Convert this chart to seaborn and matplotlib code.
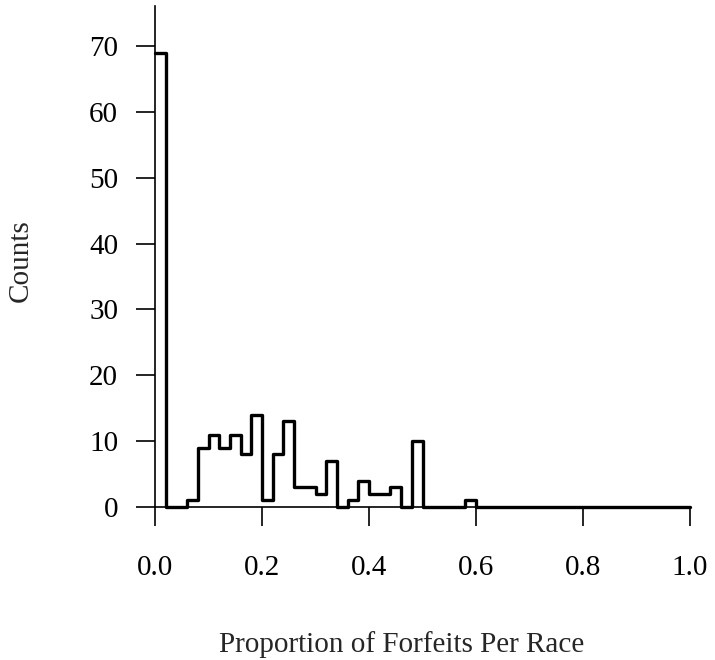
import numpy as np
import pandas as pd
import matplotlib
matplotlib.use("Agg")
import matplotlib.pyplot as plt
import seaborn as sns

bin_width = 0.02
counts = [69, 0, 0, 1, 9, 11, 9, 11, 8, 14,
          1, 8, 13, 3, 3, 2, 7, 0, 1, 4,
          2, 2, 3, 0, 10, 0, 0, 0, 0, 1,
          0, 0, 0, 0, 0, 0, 0, 0, 0, 0,
          0, 0, 0, 0, 0, 0, 0, 0, 0, 0]
x_ticks = [0.0, 0.2, 0.4, 0.6, 0.8, 1.0]
y_ticks = [0, 10, 20, 30, 40, 50, 60, 70]

centers = (np.arange(len(counts)) + 0.5) * bin_width
df = pd.DataFrame({"prop": centers, "n": counts})

sns.set_style("white")
plt.rcParams["font.family"] = ["Liberation Serif", "DejaVu Serif"]

fig = plt.figure(figsize=(7.15, 6.6), dpi=100)
ax = fig.add_axes([155/715, 1 - 507/660, 535/715, 501/660])
sns.histplot(data=df, x="prop", weights="n", binwidth=bin_width, binrange=(0, 1),
             element="step", fill=False, color="black", linewidth=2.4, ax=ax)
for art in ax.lines + ax.patches + ax.collections:
    art.set_clip_on(False)
ax.set_xlim(0, 1)
ax.set_ylim(0, 76.1)
ax.set_xticks(x_ticks)
ax.set_xticklabels([f"{t:.1f}" for t in x_ticks])
ax.set_yticks(y_ticks)
ax.set_yticklabels([str(t) for t in y_ticks])
for s in ["top", "right"]:
    ax.spines[s].set_visible(False)
for s in ["left", "bottom"]:
    ax.spines[s].set_color("black")
    ax.spines[s].set_linewidth(1.2)
ax.tick_params(axis="both", direction="out", length=13.5, width=1.2,
               labelsize=21, colors="black", bottom=True, left=True)
ax.tick_params(axis="x", pad=21)
ax.tick_params(axis="y", pad=13)
ax.set_xlabel("Proportion of Forfeits Per Race", fontsize=21)
ax.set_ylabel("Counts", fontsize=21)
ax.xaxis.set_label_coords(0.461, (507 - 652) / 501)
ax.xaxis.label.set_va("baseline")
ax.yaxis.set_label_coords((21 - 155) / 535, (507 - 261) / 501)
ax.yaxis.label.set_va("center")
ax.yaxis.label.set_ha("center")
fig.savefig("out.png", dpi=100)
